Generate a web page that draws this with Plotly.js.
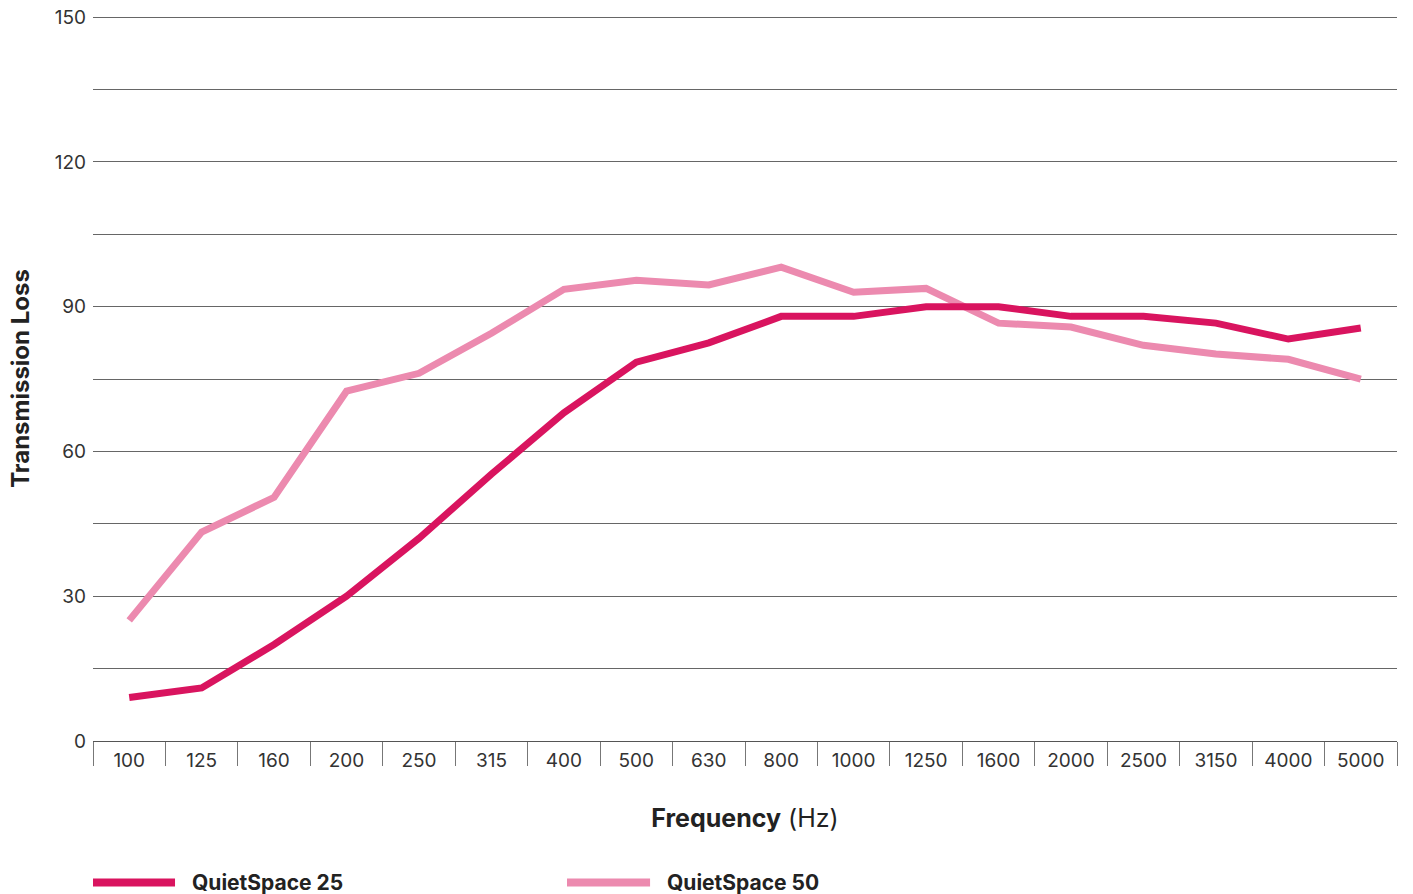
<!DOCTYPE html>
<html>
<head>
<meta charset="utf-8">
<script src="https://cdn.plot.ly/plotly-3.0.1.min.js"></script>
<style>html,body{margin:0;padding:0;background:#fff}#chart{width:1413px;height:894px}</style>
</head>
<body>
<div id="chart"></div>
<script>
var frequencies = ["100","125","160","200","250","315","400","500","630","800","1000","1250","1600","2000","2500","3150","4000","5000"];
var seriesNames = ["QuietSpace 25", "QuietSpace 50"];
var quietSpace25 = [9, 11, 20, 30, 42, 55.3, 68, 78.5, 82.5, 88, 88, 90, 90, 88, 88, 86.6, 83.3, 85.6];
var quietSpace50 = [25, 43.3, 50.5, 72.5, 76.2, 84.5, 93.6, 95.5, 94.5, 98.2, 93, 93.8, 86.6, 85.8, 82, 80.2, 79.1, 75];
var yTickVals = [0, 15, 30, 45, 60, 75, 90, 105, 120, 135, 150];
var yTickText = ["0", "", "30", "", "60", "", "90", "", "120", "", "150"];

var colors = ["#D9145F", "#EC8AAF"];
var FONT = "Inter, 'Open Sans', sans-serif";

var traces = [
  {x: frequencies, y: quietSpace50, type: "scatter", mode: "lines", name: seriesNames[1],
   line: {color: colors[1], width: 7}, showlegend: false, hoverinfo: "x+y+name"},
  {x: frequencies, y: quietSpace25, type: "scatter", mode: "lines", name: seriesNames[0],
   line: {color: colors[0], width: 7}, showlegend: false, hoverinfo: "x+y+name"}
];

var legendY = -0.195;
var legendItems = [
  {x0: 0.0, x1: 0.0629, tx: 0.0744, color: colors[0], name: seriesNames[0]},
  {x0: 0.3635, x1: 0.4272, tx: 0.4387, color: colors[1], name: seriesNames[1]}
];
var shapes = [], annotations = [];
legendItems.forEach(function(it){
  shapes.push({type: "line", xref: "paper", yref: "paper", x0: it.x0, x1: it.x1, y0: legendY, y1: legendY,
    line: {color: it.color, width: 8}});
  annotations.push({xref: "paper", yref: "paper", x: it.tx, y: legendY, xanchor: "left", yanchor: "middle",
    text: "<b>" + it.name + "</b>", showarrow: false, font: {family: FONT, size: 21, color: "#222"}});
});

var layout = {
  width: 1413, height: 894,
  margin: {l: 93, r: 16, t: 16, b: 153},
  paper_bgcolor: "#fff", plot_bgcolor: "#fff",
  font: {family: FONT, color: "#333"},
  xaxis: {
    type: "category",
    tickson: "boundaries",
    ticks: "outside", ticklen: 24, tickwidth: 1, tickcolor: "#777",
    ticklabelstandoff: 2,
    showgrid: false, zeroline: false,
    showline: true, linecolor: "#555", linewidth: 1,
    tickfont: {family: FONT, size: 19, color: "#333"},
    title: {text: "<b>Frequency</b> (Hz)", font: {family: FONT, size: 25, color: "#222"}, standoff: 38},
    range: [-0.5, 17.5], fixedrange: true
  },
  yaxis: {
    range: [0, 150.25],
    tickmode: "array", tickvals: yTickVals, ticktext: yTickText,
    showgrid: true, gridcolor: "#666", gridwidth: 1,
    zeroline: false, showline: false, ticks: "",
    ticklabelstandoff: 6,
    tickfont: {family: FONT, size: 19, color: "#333"},
    title: {text: "<b>Transmission Loss</b>", font: {family: FONT, size: 24, color: "#222"}, standoff: 18},
    fixedrange: true
  },
  shapes: shapes,
  annotations: annotations,
  showlegend: false
};

Plotly.newPlot("chart", traces, layout, {displayModeBar: false, responsive: false});
</script>
</body>
</html>
